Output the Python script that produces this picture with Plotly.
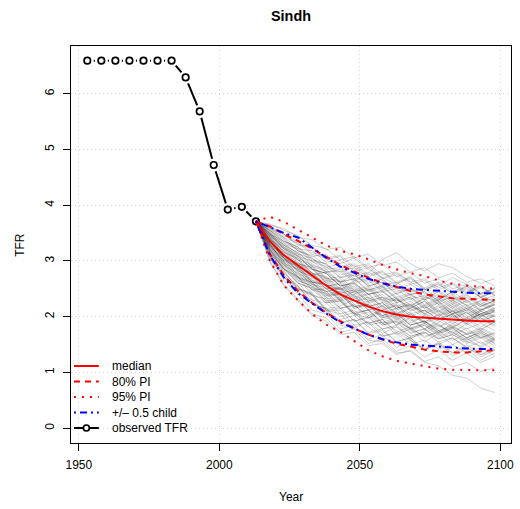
import math
import plotly.graph_objects as go

# ---------------- data ----------------
obs_years = [1953, 1958, 1963, 1968, 1973, 1978, 1983, 1988, 1993, 1998, 2003, 2008, 2013]
obs_tfr = [6.59, 6.59, 6.59, 6.59, 6.59, 6.59, 6.59, 6.29, 5.68, 4.72, 3.92, 3.97, 3.71]

proj_years = [2013, 2018, 2023, 2028, 2033, 2038, 2043, 2048, 2053,
              2058, 2063, 2068, 2073, 2078, 2083, 2088, 2093, 2098]

median = [3.71, 3.35, 3.10, 2.92, 2.74, 2.56, 2.40, 2.29, 2.18,
          2.10, 2.04, 2.00, 1.98, 1.96, 1.94, 1.93, 1.92, 1.92]
pi80_high = [3.71, 3.62, 3.48, 3.36, 3.22, 3.08, 2.93, 2.81, 2.70,
             2.61, 2.53, 2.46, 2.40, 2.36, 2.33, 2.32, 2.31, 2.30]
pi80_low = [3.71, 3.12, 2.74, 2.46, 2.25, 2.07, 1.92, 1.79, 1.68,
            1.59, 1.52, 1.46, 1.41, 1.38, 1.36, 1.36, 1.38, 1.40]
pi95_high = [3.71, 3.79, 3.70, 3.56, 3.42, 3.28, 3.18, 3.12, 3.03,
             2.93, 2.85, 2.78, 2.73, 2.65, 2.59, 2.56, 2.52, 2.50]
pi95_low = [3.71, 3.00, 2.56, 2.29, 2.05, 1.86, 1.73, 1.56, 1.40,
            1.29, 1.21, 1.16, 1.11, 1.07, 1.05, 1.04, 1.04, 1.04]
half_child_high = [3.71, 3.60, 3.50, 3.42, 3.24, 3.06, 2.90, 2.79, 2.68,
                   2.60, 2.54, 2.50, 2.48, 2.46, 2.44, 2.43, 2.42, 2.42]
half_child_low = [3.71, 3.10, 2.70, 2.42, 2.24, 2.06, 1.90, 1.79, 1.68,
                  1.60, 1.54, 1.50, 1.48, 1.46, 1.44, 1.43, 1.42, 1.42]

# simulated TFR paths, 2018..2098 (each continues from the last observed value)
trajectories = [
    [3.52, 3.30, 3.22, 3.00, 2.95, 2.70, 2.78, 2.55, 2.62, 2.40, 2.52, 2.35, 2.48, 2.30, 2.42, 2.55, 2.38],
    [3.30, 2.95, 2.85, 2.52, 2.46, 2.20, 2.30, 2.02, 2.12, 1.85, 2.05, 1.92, 1.78, 2.02, 1.88, 2.10, 1.95],
    [3.20, 2.82, 2.50, 2.42, 2.12, 2.05, 1.80, 1.92, 1.70, 1.82, 1.60, 1.75, 1.88, 1.65, 1.80, 1.62, 1.72],
    [3.60, 3.48, 3.28, 3.25, 3.02, 3.08, 2.85, 2.92, 2.70, 2.58, 2.72, 2.48, 2.60, 2.40, 2.55, 2.35, 2.45],
    [3.38, 3.02, 2.90, 2.62, 2.58, 2.32, 2.45, 2.18, 2.25, 2.02, 2.15, 2.28, 2.05, 2.18, 1.98, 2.12, 2.22],
    [3.10, 2.70, 2.45, 2.22, 2.15, 1.90, 1.95, 1.72, 1.78, 1.55, 1.62, 1.40, 1.52, 1.30, 1.42, 1.22, 1.35],
    [3.45, 3.25, 3.02, 2.90, 2.68, 2.72, 2.48, 2.55, 2.30, 2.42, 2.20, 2.32, 2.10, 2.25, 2.05, 2.18, 2.30],
    [3.28, 2.98, 2.70, 2.62, 2.38, 2.42, 2.18, 2.25, 2.02, 2.10, 1.88, 2.02, 1.85, 1.70, 1.88, 1.75, 1.92],
    [3.55, 3.38, 3.18, 3.10, 2.92, 2.80, 2.88, 2.70, 2.55, 2.62, 2.45, 2.50, 2.32, 2.40, 2.25, 2.35, 2.20],
    [3.18, 2.85, 2.62, 2.30, 2.25, 2.00, 2.08, 1.85, 1.90, 1.68, 1.78, 1.55, 1.70, 1.50, 1.62, 1.45, 1.58],
    [3.65, 3.58, 3.42, 3.38, 3.20, 3.25, 3.05, 3.12, 2.92, 2.98, 2.80, 2.88, 2.70, 2.78, 2.62, 2.68, 2.55],
    [3.25, 2.92, 2.78, 2.48, 2.42, 2.15, 2.22, 1.98, 2.08, 1.85, 1.98, 1.78, 1.95, 2.10, 1.92, 2.05, 1.88],
    [3.40, 3.12, 2.88, 2.80, 2.55, 2.58, 2.32, 2.40, 2.15, 2.22, 2.00, 2.12, 1.95, 2.05, 1.85, 1.98, 1.82],
    [3.05, 2.65, 2.40, 2.12, 2.05, 1.78, 1.85, 1.60, 1.68, 1.45, 1.58, 1.40, 1.55, 1.35, 1.50, 1.32, 1.45],
    [3.50, 3.28, 3.15, 2.95, 2.80, 2.85, 2.65, 2.68, 2.48, 2.55, 2.38, 2.30, 2.45, 2.25, 2.38, 2.20, 2.28],
    [3.35, 3.05, 2.92, 2.65, 2.58, 2.35, 2.40, 2.18, 2.25, 2.05, 2.15, 1.98, 2.10, 1.95, 2.08, 1.90, 2.02],
    [3.22, 2.88, 2.60, 2.52, 2.28, 2.30, 2.05, 2.12, 1.90, 1.98, 1.75, 1.85, 1.68, 1.80, 1.62, 1.75, 1.60],
    [3.58, 3.42, 3.32, 3.12, 3.05, 2.88, 2.92, 2.72, 2.80, 2.60, 2.68, 2.50, 2.58, 2.42, 2.50, 2.35, 2.45],
    [3.42, 3.15, 3.05, 2.78, 2.72, 2.50, 2.58, 2.35, 2.20, 2.32, 2.15, 2.28, 2.08, 2.22, 2.02, 2.15, 2.00],
    [3.15, 2.80, 2.52, 2.40, 2.15, 2.18, 1.92, 2.00, 1.78, 1.85, 1.65, 1.72, 1.55, 1.62, 1.45, 1.55, 1.40],
    [3.32, 3.05, 2.82, 2.72, 2.50, 2.52, 2.28, 2.35, 2.12, 2.20, 2.02, 1.90, 2.05, 1.88, 1.98, 1.82, 1.95],
    [3.48, 3.25, 3.12, 2.90, 2.82, 2.62, 2.68, 2.48, 2.55, 2.35, 2.42, 2.22, 2.35, 2.18, 2.30, 2.12, 2.25],
    [3.00, 2.58, 2.32, 2.05, 1.98, 1.72, 1.78, 1.52, 1.60, 1.38, 1.48, 1.28, 1.40, 1.22, 1.35, 1.18, 1.28],
    [3.40, 3.18, 2.95, 2.88, 2.65, 2.68, 2.45, 2.50, 2.28, 2.35, 2.12, 2.20, 2.02, 2.12, 1.95, 2.05, 1.90],
    [3.55, 3.35, 3.25, 3.02, 2.95, 2.75, 2.80, 2.60, 2.68, 2.45, 2.52, 2.32, 2.45, 2.28, 2.40, 2.22, 2.35],
    [3.28, 2.95, 2.70, 2.60, 2.35, 2.40, 2.15, 2.22, 1.98, 2.05, 1.85, 1.92, 1.75, 1.85, 1.68, 1.78, 1.65],
    [3.36, 3.08, 2.95, 2.70, 2.62, 2.42, 2.48, 2.28, 2.35, 2.15, 2.22, 2.05, 2.15, 2.28, 2.10, 2.22, 2.08],
    [3.12, 2.75, 2.50, 2.40, 2.12, 2.15, 1.92, 1.98, 1.78, 1.82, 1.65, 1.72, 1.60, 1.68, 1.55, 1.65, 1.52],
    [3.45, 3.22, 3.08, 2.85, 2.78, 2.55, 2.60, 2.40, 2.45, 2.25, 2.32, 2.15, 2.25, 2.08, 2.18, 2.02, 2.12],
    [3.30, 2.98, 2.75, 2.65, 2.40, 2.42, 2.18, 2.22, 2.00, 2.05, 1.85, 1.92, 1.75, 1.82, 1.68, 1.75, 1.62],
    [3.66, 3.55, 3.45, 3.28, 3.22, 3.02, 3.08, 2.88, 2.95, 2.72, 2.80, 2.60, 2.68, 2.50, 2.58, 2.42, 2.52],
    [3.20, 2.85, 2.70, 2.38, 2.32, 2.05, 2.12, 1.88, 1.95, 1.72, 1.82, 1.62, 1.75, 1.58, 1.70, 1.52, 1.62],
    [3.38, 3.10, 2.88, 2.78, 2.55, 2.60, 2.35, 2.42, 2.18, 2.25, 2.05, 2.12, 1.95, 2.05, 1.90, 2.00, 2.10],
    [3.48, 3.28, 3.08, 3.00, 2.80, 2.82, 2.62, 2.65, 2.45, 2.50, 2.32, 2.38, 2.22, 2.30, 2.15, 2.25, 2.12],
    [3.08, 2.70, 2.55, 2.22, 2.15, 1.88, 1.95, 1.70, 1.75, 1.55, 1.62, 1.42, 1.52, 1.35, 1.45, 1.28, 1.40],
    [3.34, 3.05, 2.90, 2.62, 2.55, 2.30, 2.38, 2.12, 2.20, 1.98, 2.08, 1.90, 2.02, 2.15, 1.98, 2.12, 2.22],
    [3.52, 3.32, 3.12, 3.05, 2.85, 2.88, 2.68, 2.72, 2.52, 2.58, 2.40, 2.45, 2.28, 2.35, 2.20, 2.28, 2.15],
    [3.24, 2.92, 2.68, 2.58, 2.32, 2.35, 2.08, 2.12, 1.88, 1.92, 1.72, 1.78, 1.60, 1.68, 1.52, 1.62, 1.48],
    [3.42, 3.15, 3.02, 2.75, 2.68, 2.45, 2.52, 2.28, 2.35, 2.15, 2.25, 2.05, 2.18, 2.00, 2.12, 1.95, 2.05],
    [3.58, 3.42, 3.22, 3.18, 2.98, 3.02, 2.82, 2.88, 2.68, 2.75, 2.58, 2.65, 2.48, 2.58, 2.42, 2.52, 2.38],
    [3.28, 3.00, 2.85, 2.62, 2.58, 2.48, 2.65, 2.78, 3.02, 3.15, 2.95, 2.82, 2.95, 2.88, 2.72, 2.60, 2.68],
    [3.15, 2.78, 2.55, 2.25, 2.12, 1.85, 1.80, 1.58, 1.55, 1.35, 1.38, 1.18, 1.12, 0.95, 0.90, 0.72, 0.64],
    [3.35, 3.05, 2.82, 2.72, 2.45, 2.50, 2.22, 2.28, 2.02, 2.08, 1.85, 1.92, 1.72, 1.80, 1.62, 1.72, 1.58],
    [3.46, 3.24, 3.10, 2.85, 2.78, 2.55, 2.62, 2.40, 2.48, 2.25, 2.35, 2.15, 2.28, 2.10, 2.22, 2.05, 2.15],
    [3.22, 2.88, 2.65, 2.55, 2.28, 2.32, 2.05, 2.12, 1.88, 1.95, 1.78, 1.88, 1.72, 1.82, 1.70, 1.80, 1.68],
    [3.50, 3.28, 3.15, 2.92, 2.85, 2.62, 2.68, 2.45, 2.52, 2.32, 2.40, 2.20, 2.32, 2.15, 2.28, 2.10, 2.22],
    [2.98, 2.55, 2.28, 2.02, 1.92, 1.68, 1.72, 1.48, 1.52, 1.32, 1.40, 1.20, 1.28, 1.10, 1.18, 1.02, 1.08],
    [3.40, 3.15, 2.92, 2.85, 2.62, 2.65, 2.42, 2.48, 2.25, 2.32, 2.10, 2.18, 2.00, 2.10, 1.92, 2.05, 2.15],
    [3.60, 3.45, 3.35, 3.15, 3.08, 2.90, 2.95, 2.75, 2.82, 2.62, 2.70, 2.52, 2.62, 2.45, 2.55, 2.40, 2.50],
    [3.30, 3.00, 2.78, 2.68, 2.42, 2.45, 2.18, 2.22, 1.98, 2.02, 1.80, 1.88, 1.70, 1.78, 1.62, 1.72, 1.58],
    [3.38, 3.12, 2.98, 2.72, 2.65, 2.42, 2.48, 2.25, 2.32, 2.12, 2.20, 2.02, 2.12, 1.98, 2.08, 1.92, 2.02],
    [3.26, 2.95, 2.72, 2.62, 2.38, 2.40, 2.15, 2.20, 1.95, 2.00, 1.78, 1.85, 1.65, 1.75, 1.58, 1.68, 1.52],
    [3.46, 3.22, 3.08, 2.85, 2.78, 2.55, 2.60, 2.40, 2.45, 2.28, 2.35, 2.18, 2.30, 2.45, 2.28, 2.40, 2.25],
    [3.18, 2.85, 2.60, 2.50, 2.25, 2.28, 2.02, 2.08, 1.85, 1.90, 1.70, 1.78, 1.62, 1.72, 1.58, 1.70, 1.55],
    [3.62, 3.48, 3.30, 3.25, 3.05, 3.10, 2.90, 2.95, 2.75, 2.80, 2.62, 2.68, 2.52, 2.60, 2.45, 2.55, 2.40],
    [3.32, 3.02, 2.88, 2.58, 2.52, 2.28, 2.35, 2.12, 2.18, 1.95, 2.05, 1.88, 1.98, 1.82, 1.95, 1.78, 1.90],
    [3.10, 2.75, 2.48, 2.38, 2.10, 2.12, 1.85, 1.90, 1.65, 1.70, 1.50, 1.58, 1.42, 1.50, 1.35, 1.45, 1.30],
    [3.44, 3.18, 3.02, 2.78, 2.70, 2.48, 2.55, 2.32, 2.40, 2.18, 2.28, 2.08, 2.20, 2.05, 2.15, 2.00, 2.10],
    [3.36, 3.08, 2.85, 2.75, 2.50, 2.52, 2.28, 2.32, 2.08, 2.15, 1.92, 2.00, 1.82, 1.92, 1.78, 1.88, 1.75],
    [3.54, 3.34, 3.20, 2.98, 2.90, 2.70, 2.75, 2.55, 2.62, 2.42, 2.50, 2.30, 2.40, 2.22, 2.35, 2.18, 2.28],
    [3.42, 3.10, 2.95, 2.88, 2.60, 2.38, 2.45, 2.52, 2.30, 2.05, 2.18, 2.35, 2.28, 2.02, 1.88, 2.05, 2.12],
    [3.25, 3.05, 2.72, 2.48, 2.50, 2.30, 2.05, 1.98, 2.12, 2.20, 1.95, 1.78, 1.90, 2.05, 2.15, 1.98, 1.85],
    [3.50, 3.20, 3.05, 2.92, 2.70, 2.62, 2.75, 2.58, 2.35, 2.28, 2.40, 2.45, 2.22, 2.05, 2.12, 2.30, 2.38],
    [3.15, 2.85, 2.72, 2.42, 2.25, 2.28, 2.05, 1.88, 1.95, 1.75, 1.62, 1.70, 1.85, 1.72, 1.55, 1.48, 1.60],
    [3.38, 3.22, 2.98, 2.75, 2.80, 2.62, 2.40, 2.48, 2.55, 2.32, 2.18, 2.10, 2.25, 2.38, 2.20, 2.02, 2.08],
    [3.05, 2.72, 2.42, 2.30, 2.08, 1.95, 2.02, 1.82, 1.65, 1.72, 1.58, 1.42, 1.50, 1.62, 1.45, 1.32, 1.40],
    [3.48, 3.35, 3.25, 3.05, 2.88, 2.95, 3.05, 2.85, 2.70, 2.78, 2.62, 2.48, 2.55, 2.70, 2.58, 2.42, 2.50],
    [3.30, 3.08, 2.80, 2.58, 2.45, 2.52, 2.38, 2.12, 2.02, 2.15, 2.22, 2.05, 1.92, 1.80, 1.95, 2.10, 2.00],
    [3.20, 2.92, 2.65, 2.55, 2.35, 2.15, 2.20, 2.02, 1.85, 1.92, 1.78, 1.65, 1.72, 1.88, 1.75, 1.62, 1.70],
    [3.55, 3.40, 3.18, 3.08, 3.12, 2.90, 2.72, 2.80, 2.65, 2.50, 2.58, 2.42, 2.30, 2.45, 2.52, 2.35, 2.28],
]

x_ticks = [1950, 2000, 2050, 2100]
y_ticks = [0, 1, 2, 3, 4, 5, 6]

# ---------------- layout geometry ----------------
W, H = 520, 509
MARGIN = dict(l=71, r=6, t=46, b=66)
X_RANGE = [1947.2, 2103.8]
Y_RANGE = [-0.264, 6.853]
FONT = "Liberation Sans, Arial, Helvetica, sans-serif"

px_per_year = (W - MARGIN["l"] - MARGIN["r"]) / (X_RANGE[1] - X_RANGE[0])
px_per_unit = (H - MARGIN["t"] - MARGIN["b"]) / (Y_RANGE[1] - Y_RANGE[0])

fig = go.Figure()

# gray simulated trajectories (semi-transparent, so overlaps darken)
for traj in trajectories:
    fig.add_trace(go.Scatter(
        x=proj_years, y=[obs_tfr[-1]] + traj, mode="lines",
        line=dict(color="rgba(0,0,0,0.19)", width=1),
        hoverinfo="skip", showlegend=False))

# observed TFR: line segments broken around each point (R type="b")
GAP_PX = 6.5
seg_x, seg_y = [], []
for i in range(len(obs_years) - 1):
    x0, y0, x1, y1 = obs_years[i], obs_tfr[i], obs_years[i + 1], obs_tfr[i + 1]
    length = math.hypot((x1 - x0) * px_per_year, (y1 - y0) * px_per_unit)
    if length > 2 * GAP_PX:
        f = GAP_PX / length
        seg_x += [x0 + (x1 - x0) * f, x1 - (x1 - x0) * f, None]
        seg_y += [y0 + (y1 - y0) * f, y1 - (y1 - y0) * f, None]
fig.add_trace(go.Scatter(x=seg_x, y=seg_y, mode="lines",
                         line=dict(color="black", width=2),
                         hoverinfo="skip", showlegend=False))
fig.add_trace(go.Scatter(x=obs_years, y=obs_tfr, mode="markers",
                         marker=dict(symbol="circle-open", size=6.5,
                                     color="black", line=dict(width=1.7)),
                         showlegend=False))

DASH80 = "6px,5px"
DOT95 = "2px,6px"
DASHDOT = "2px,4px,7px,4px"

fig.add_trace(go.Scatter(x=proj_years, y=median, mode="lines",
                         line=dict(color="red", width=2), showlegend=False))
for series in (pi80_low, pi80_high):
    fig.add_trace(go.Scatter(x=proj_years, y=series, mode="lines",
                             line=dict(color="red", width=2, dash=DASH80),
                             showlegend=False))
for series in (pi95_low, pi95_high):
    fig.add_trace(go.Scatter(x=proj_years, y=series, mode="lines",
                             line=dict(color="red", width=2, dash=DOT95),
                             showlegend=False))
for series in (half_child_low, half_child_high):
    fig.add_trace(go.Scatter(x=proj_years, y=series, mode="lines",
                             line=dict(color="blue", width=2, dash=DASHDOT),
                             showlegend=False))

# ---------------- legend (bottom-left, no frame) ----------------
legend_items = [
    ("median", "red", "solid", False),
    ("80% PI", "red", DASH80, False),
    ("95% PI", "red", DOT95, False),
    ("+/\u2013 0.5 child", "blue", DASHDOT, False),
    ("observed TFR", "black", "solid", True),
]
plot_w = W - MARGIN["l"] - MARGIN["r"]
plot_h = H - MARGIN["t"] - MARGIN["b"]
LEG_X0, LEG_X1, LEG_TX = 3, 28, 39       # px from left edge of plot area
LEG_Y_BOTTOM, LEG_STEP = 15, 15.5          # px above bottom of plot area
shapes, annotations = [], []
for k, (label, color, dash, marker) in enumerate(legend_items):
    yy = (LEG_Y_BOTTOM + (len(legend_items) - 1 - k) * LEG_STEP) / plot_h
    shapes.append(dict(type="line", xref="paper", yref="paper",
                       x0=LEG_X0 / plot_w, x1=LEG_X1 / plot_w, y0=yy, y1=yy,
                       line=dict(color=color, width=2, dash=dash)))
    if marker:
        shapes.append(dict(type="circle", xref="paper", yref="paper",
                           xsizemode="pixel", ysizemode="pixel",
                           xanchor=(LEG_X0 + LEG_X1) / 2 / plot_w, yanchor=yy,
                           x0=-3, x1=3, y0=-3, y1=3,
                           fillcolor="white", line=dict(color="black", width=1.7)))
    annotations.append(dict(text=label, xref="paper", yref="paper",
                            x=LEG_TX / plot_w, y=yy, xanchor="left", yanchor="middle",
                            showarrow=False, font=dict(family=FONT, size=12, color="black")))

# axis titles
annotations.append(dict(text="Year", xref="paper", yref="paper", x=0.5,
                        y=-(497 - (H - MARGIN["b"])) / plot_h,
                        xanchor="center", yanchor="middle", showarrow=False,
                        font=dict(family=FONT, size=12, color="black")))
annotations.append(dict(text="TFR", xref="paper", yref="paper",
                        x=-(MARGIN["l"] - 19) / plot_w, y=0.5, textangle=-90,
                        xanchor="center", yanchor="middle", showarrow=False,
                        font=dict(family=FONT, size=12, color="black")))

axis_common = dict(showline=True, linecolor="black", linewidth=1, mirror=True,
                   ticks="outside", ticklen=7, tickwidth=1, tickcolor="black",
                   showgrid=True, gridcolor="#d3d3d3", griddash="1px,3px", gridwidth=1,
                   zeroline=False, tickfont=dict(family=FONT, size=12, color="black"),
                   ticklabelstandoff=4)

fig.update_layout(
    width=W, height=H, margin=MARGIN,
    paper_bgcolor="white", plot_bgcolor="white",
    title=dict(text="<b>Sindh</b>", x=0.5, xref="paper", xanchor="center",
               y=1 - 16 / H, yref="container", yanchor="middle",
               font=dict(family=FONT, size=14.4, color="black")),
    xaxis=dict(range=X_RANGE, tickvals=x_ticks, **axis_common),
    yaxis=dict(range=Y_RANGE, tickvals=y_ticks, tickangle=-90, **axis_common),
    shapes=shapes, annotations=annotations, showlegend=False,
)

fig.write_html("out.html")
